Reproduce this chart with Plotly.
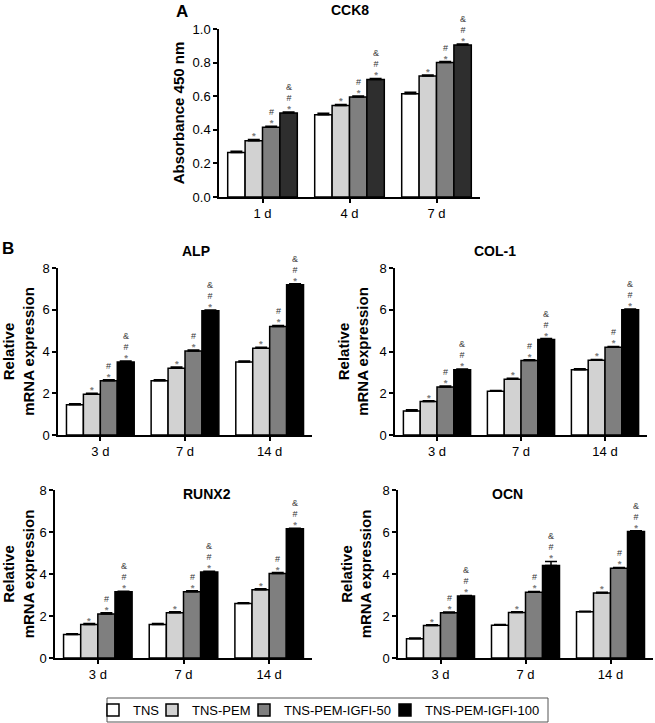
import plotly.graph_objects as go

groups = ["TNS", "TNS-PEM", "TNS-PEM-IGFI-50", "TNS-PEM-IGFI-100"]
colors_A = ["#ffffff", "#d2d2d2", "#7f7f7f", "#2e2e2e"]
colors_B = ["#ffffff", "#d2d2d2", "#7f7f7f", "#000000"]

days_A = ["1 d", "4 d", "7 d"]
days_B = ["3 d", "7 d", "14 d"]

# values per group (rows) across time points (columns)
cck8 = [[0.265, 0.49, 0.615], [0.335, 0.545, 0.72], [0.415, 0.595, 0.80], [0.50, 0.70, 0.905]]
cck8_err = [[0.008, 0.008, 0.008], [0.008, 0.006, 0.006], [0.006, 0.006, 0.006], [0.006, 0.006, 0.006]]

alp = [[1.45, 2.6, 3.5], [1.95, 3.2, 4.15], [2.6, 4.02, 5.2], [3.5, 5.95, 7.2]]
alp_err = [[0.05, 0.05, 0.05], [0.05, 0.06, 0.05], [0.05, 0.05, 0.05], [0.04, 0.04, 0.04]]

col1 = [[1.15, 2.1, 3.12], [1.6, 2.67, 3.58], [2.3, 3.57, 4.2], [3.12, 4.58, 6.0]]
col1_err = [[0.06, 0.03, 0.05], [0.04, 0.05, 0.04], [0.05, 0.04, 0.04], [0.04, 0.04, 0.03]]

runx2 = [[1.12, 1.6, 2.6], [1.6, 2.15, 3.25], [2.1, 3.15, 4.02], [3.15, 4.1, 6.15]]
runx2_err = [[0.04, 0.04, 0.03], [0.04, 0.05, 0.05], [0.05, 0.05, 0.05], [0.03, 0.03, 0.03]]

ocn = [[0.92, 1.56, 2.2], [1.55, 2.17, 3.1], [2.15, 3.13, 4.27], [2.95, 4.4, 6.02]]
ocn_err = [[0.03, 0.03, 0.03], [0.03, 0.03, 0.03], [0.04, 0.04, 0.04], [0.03, 0.2, 0.04]]

# significance marks per group (top to bottom)
sig_marks = [[], ["*"], ["#", "*"], ["&", "#", "*"]]
mark_colors = {"*": "#7a7a7a", "#": "#333333", "&": "#444444"}
mark_sizes = {"*": 9.5, "#": 9, "&": 9}
mark_weight = {"*": "bold", "#": "normal", "&": "normal"}

W, H = 655, 723

def dom_x(a, b):
    return [a / W, b / W]

def dom_y(top, bottom):
    return [1 - bottom / H, 1 - top / H]

panels = [
    dict(name="CCK8", days=days_A, vals=cck8, err=cck8_err, colors=colors_A,
         x=dom_x(219, 480), y=dom_y(29, 197), yr=[0, 1.0], dtick=0.2, fmt=".1f",
         ytitle="Absorbance 450 nm", tx=350, ty=10, standoff=4),
    dict(name="ALP", days=days_B, vals=alp, err=alp_err, colors=colors_B,
         x=dom_x(58, 312), y=dom_y(268, 435), yr=[0, 8], dtick=2, fmt="d",
         ytitle="Relative<br>mRNA expression", tx=180, ty=251, standoff=7),
    dict(name="COL-1", days=days_B, vals=col1, err=col1_err, colors=colors_B,
         x=dom_x(395, 647), y=dom_y(268, 435), yr=[0, 8], dtick=2, fmt="d",
         ytitle="Relative<br>mRNA expression", tx=518, ty=251, standoff=7),
    dict(name="RUNX2", days=days_B, vals=runx2, err=runx2_err, colors=colors_B,
         x=dom_x(55, 312), y=dom_y(490, 658), yr=[0, 8], dtick=2, fmt="d",
         ytitle="Relative<br>mRNA expression", tx=181, ty=494, standoff=7),
    dict(name="OCN", days=days_B, vals=ocn, err=ocn_err, colors=colors_B,
         x=dom_x(398, 653), y=dom_y(490, 658), yr=[0, 8], dtick=2, fmt="d",
         ytitle="Relative<br>mRNA expression", tx=525, ty=494, standoff=7),
]

legend_text_x = [133, 192, 284, 425]   # page px where each legend label starts
legend_names = ["legend", "legend2", "legend3", "legend4"]

BARGAP = 0.2
FONT = "Liberation Sans, Arial, sans-serif"
fig = go.Figure()
annotations = []
layout = {}

for p_i, p in enumerate(panels):
    n = "" if p_i == 0 else str(p_i + 1)
    xa, ya = "x" + n, "y" + n
    for g_i, g in enumerate(groups):
        fig.add_trace(go.Bar(
            x=p["days"], y=p["vals"][g_i], name=g,
            xaxis=xa, yaxis=ya,
            marker=dict(color=p["colors"][g_i], line=dict(color="black", width=1.5)),
            error_y=dict(type="data", array=p["err"][g_i], arrayminus=[0] * len(p["days"]),
                         symmetric=False, color="black", thickness=1.5, width=6),
            showlegend=(p_i == 1), legend=legend_names[g_i],
        ))
    # significance annotations above bars
    gw = 1 - BARGAP
    bw = gw / len(groups)
    for g_i in range(len(groups)):
        if not sig_marks[g_i]:
            continue
        lines = ['<span style="color:%s;font-size:%spx;font-weight:%s">%s</span>'
                 % (mark_colors[m], mark_sizes[m], mark_weight[m], m)
                 for m in sig_marks[g_i]]
        txt = "<br>".join(lines)
        for d_i in range(len(p["days"])):
            top = p["vals"][g_i][d_i] + p["err"][g_i][d_i]
            annotations.append(dict(
                x=d_i - gw / 2 + (g_i + 0.5) * bw, y=top, xref=xa, yref=ya,
                text=txt, showarrow=False, yanchor="bottom", yshift=-4,
                font=dict(size=8.6, color="#444444", family=FONT),
            ))
    layout["xaxis" + n] = dict(
        domain=p["x"], anchor=ya, type="category", showline=True, linecolor="black",
        linewidth=1.5, ticks="outside", ticklen=4, tickwidth=1.5, tickcolor="black",
        showgrid=False, tickfont=dict(size=13, color="black", family=FONT),
        range=[-0.5, len(p["days"]) - 0.5], automargin=False,
    )
    layout["yaxis" + n] = dict(
        domain=p["y"], anchor=xa, range=p["yr"], dtick=p["dtick"], tickformat=p["fmt"],
        showline=True, linecolor="black", linewidth=1.5, ticks="outside", ticklen=4,
        tickwidth=1.5, tickcolor="black", showgrid=False, zeroline=False,
        tickfont=dict(size=13, color="black", family=FONT), automargin=False,
        title=dict(text="<b>" + p["ytitle"] + "</b>", font=dict(size=15, color="black", family=FONT),
                   standoff=p["standoff"]),
    )
    annotations.append(dict(
        x=p["tx"] / W, y=1 - p["ty"] / H, xref="paper", yref="paper",
        text="<b>" + p["name"] + "</b>", showarrow=False, yanchor="middle",
        font=dict(size=14, color="black", family=FONT),
    ))

annotations.append(dict(x=174 / W, y=1 - 0 / H, xref="paper", yref="paper", text="<b>A</b>",
                        showarrow=False, xanchor="left", yanchor="top",
                        font=dict(size=17, color="black", family=FONT)))
annotations.append(dict(x=0 / W, y=1 - 237 / H, xref="paper", yref="paper", text="<b>B</b>",
                        showarrow=False, xanchor="left", yanchor="top",
                        font=dict(size=17, color="black", family=FONT)))

for name, tx in zip(legend_names, legend_text_x):
    layout[name] = dict(orientation="h", x=(tx - 40) / W, xanchor="left",
                        y=1 - 710 / H, yanchor="middle", borderwidth=0,
                        bgcolor="rgba(0,0,0,0)",
                        font=dict(size=13, color="black", family=FONT), itemwidth=30)

fig.update_layout(
    width=W, height=H, margin=dict(l=0, r=0, t=0, b=0, autoexpand=False),
    paper_bgcolor="white", plot_bgcolor="white",
    barmode="group", bargap=BARGAP, bargroupgap=0,
    font=dict(family=FONT, color="black"),
    showlegend=True,
    annotations=annotations,
    shapes=[dict(type="rect", xref="paper", yref="paper", x0=107 / W, x1=548 / W,
                 y0=1 - 722 / H, y1=1 - 698 / H, line=dict(color="#555555", width=1))],
    **layout,
)

fig.write_html("out.html", config={"displayModeBar": False},
               post_script="document.body.style.margin='0px';")
